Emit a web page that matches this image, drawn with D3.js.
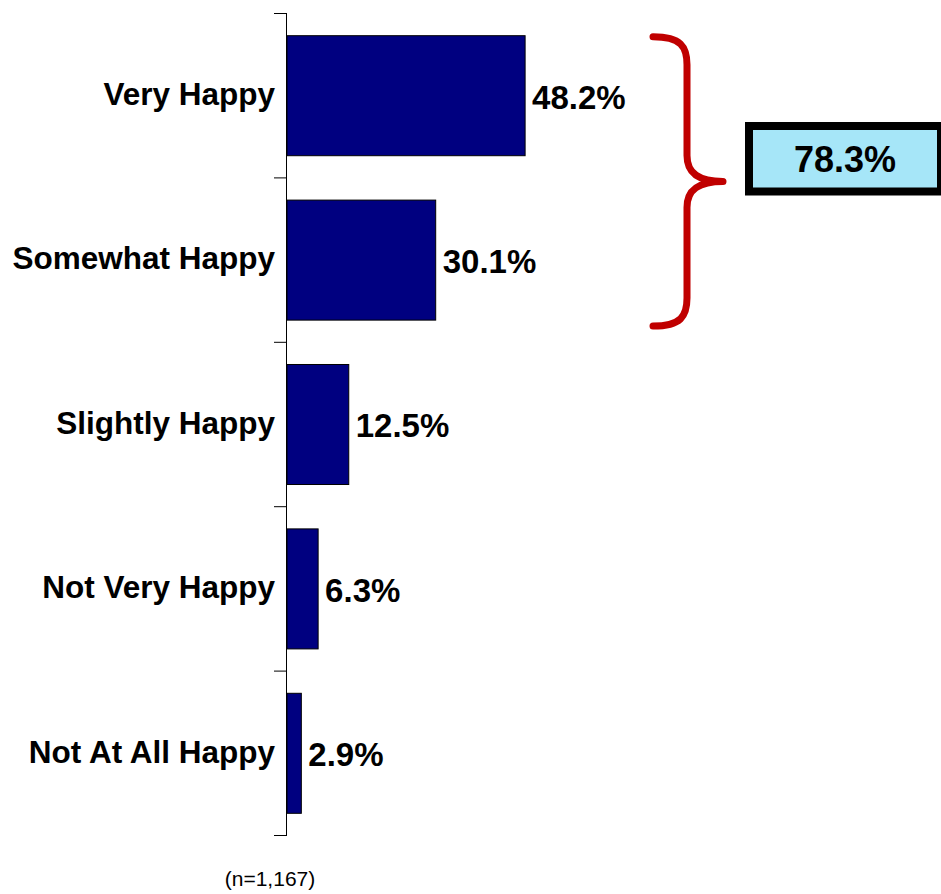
<!DOCTYPE html>
<html><head><meta charset="utf-8">
<script src="https://cdn.jsdelivr.net/npm/d3@7"></script>
<style>body{margin:0;background:#fff}svg{display:block}</style>
</head><body>
<script>
const categories = ["Very Happy","Somewhat Happy","Slightly Happy","Not Very Happy","Not At All Happy"];
const values = [48.2, 30.1, 12.5, 6.3, 2.9];
const valueLabels = ["48.2%","30.1%","12.5%","6.3%","2.9%"];
const totalLabel = "78.3%";
const noteLabel = "(n=1,167)";

const W = 941, H = 894;
const svg = d3.select("body").append("svg").attr("width", W).attr("height", H);
const font = "'Liberation Sans', Arial, sans-serif";

const x = d3.scaleLinear().domain([0, 100]).range([287, 781]);
const y = d3.scaleBand().domain(categories).range([13.5, 835.5]).paddingInner(0.27).paddingOuter(0.135);

// bars
svg.selectAll("rect.bar").data(values).enter().append("rect")
  .attr("class","bar")
  .attr("x", x(0))
  .attr("y", (d,i) => y(categories[i]))
  .attr("width", d => x(d) - x(0))
  .attr("height", y.bandwidth())
  .attr("fill", "#000080")
  .attr("stroke", "#000")
  .attr("stroke-width", 1);

// axis line and ticks at band boundaries
const step = y.step();
const bounds = d3.range(categories.length + 1).map(i => 13.5 + i * step);
svg.append("line").attr("x1", 286.5).attr("x2", 286.5).attr("y1", bounds[0]).attr("y2", bounds[bounds.length-1])
  .attr("stroke", "#000").attr("stroke-width", 1);
svg.selectAll("line.tick").data(bounds).enter().append("line")
  .attr("class","tick").attr("x1", 274).attr("x2", 287).attr("y1", d => d).attr("y2", d => d)
  .attr("stroke", "#000").attr("stroke-width", 1);

// category labels
svg.selectAll("text.cat").data(categories).enter().append("text")
  .attr("class","cat")
  .attr("x", 275)
  .attr("y", d => y(d) + y.bandwidth()/2 - 2)
  .attr("dy", "0.36em")
  .attr("text-anchor", "end")
  .attr("font-family", font).attr("font-weight", "bold").attr("font-size", 31.5)
  .attr("fill", "#000")
  .text(d => d);

// value labels
svg.selectAll("text.val").data(values).enter().append("text")
  .attr("class","val")
  .attr("x", d => x(d) + 7)
  .attr("y", (d,i) => y(categories[i]) + y.bandwidth()/2 + 1)
  .attr("dy", "0.36em")
  .attr("font-family", font).attr("font-weight", "bold").attr("font-size", 33)
  .attr("fill", "#000")
  .text((d,i) => valueLabels[i]);

// brace spanning first two bars
const yTop = y(categories[0]) + 1;
const yBot = y(categories[1]) + y.bandwidth() + 6;
const yMid = (yTop + yBot) / 2;
const bx0 = 653, bx1 = 687, bxTip = 723;
const brace = `M${bx0},${yTop} C${bx1-6},${yTop} ${bx1},${yTop+10} ${bx1},${yTop+28}
  L${bx1},${yMid-26} C${bx1},${yMid-8} ${bx1+12},${yMid} ${bxTip},${yMid}
  C${bx1+12},${yMid} ${bx1},${yMid+8} ${bx1},${yMid+26}
  L${bx1},${yBot-28} C${bx1},${yBot-10} ${bx1-6},${yBot} ${bx0},${yBot}`;
svg.append("path").attr("d", brace).attr("fill", "none")
  .attr("stroke", "#C00000").attr("stroke-width", 7).attr("stroke-linecap", "round").attr("stroke-linejoin","round");

// total box
svg.append("rect").attr("x", 749).attr("y", 126).attr("width", 192).attr("height", 65.5)
  .attr("fill", "#A6E6F8").attr("stroke", "#000").attr("stroke-width", 8);
svg.append("text").attr("x", 845).attr("y", 159).attr("dy", "0.36em")
  .attr("text-anchor", "middle")
  .attr("font-family", font).attr("font-weight", "bold").attr("font-size", 36)
  .text(totalLabel);

// note
svg.append("text").attr("x", 270).attr("y", 886).attr("text-anchor", "middle")
  .attr("font-family", font).attr("font-size", 21).text(noteLabel);
</script>
</body></html>
